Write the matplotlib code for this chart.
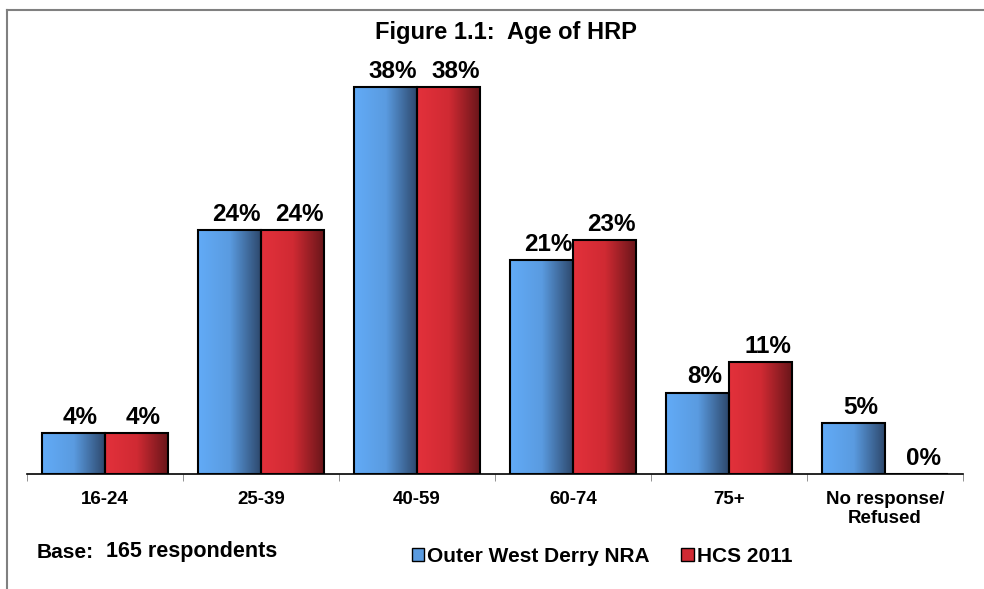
import matplotlib.pyplot as plt
import numpy as np
from matplotlib.colors import LinearSegmentedColormap
from matplotlib.lines import Line2D

plt.rcParams["font.family"] = ["Liberation Sans", "DejaVu Sans"]
plt.rcParams["font.weight"] = "bold"

categories = ["16-24", "25-39", "40-59", "60-74", "75+", "No response/\nRefused"]
outer_west = [4, 24, 38, 21, 8, 5]
hcs_2011 = [4, 24, 38, 23, 11, 0]
series_names = ["Outer West Derry NRA", "HCS 2011"]

blue_cmap = LinearSegmentedColormap.from_list("b", ["#62abf7", "#5a9be0", "#2c4669"])
red_cmap = LinearSegmentedColormap.from_list("r", ["#e3313b", "#d02a33", "#661519"])

fig = plt.figure(figsize=(9.84, 5.89), dpi=100)
ax = fig.add_axes([27 / 984, 115 / 589, 936 / 984, 407 / 589])

x = np.arange(len(categories))
w = 0.404
grad = np.linspace(0, 1, 256).reshape(1, -1)


def gradient_bars(xs, vals, cmap, color):
    bars = ax.bar(xs, vals, w, color=color, edgecolor="black", linewidth=1.5, zorder=3)
    for b in bars:
        if b.get_height() <= 0:
            continue
        x0, y0 = b.get_x(), b.get_y()
        im = ax.imshow(grad, cmap=cmap, aspect="auto", zorder=2,
                       extent=[x0, x0 + b.get_width(), y0, y0 + b.get_height()])
        im.set_clip_path(b)
        b.set_facecolor("none")
    return bars


b1 = gradient_bars(x - w / 2, outer_west, blue_cmap, "#5a9be0")
b2 = gradient_bars(x + w / 2, hcs_2011, red_cmap, "#d02a33")

for bars, vals in ((b1, outer_west), (b2, hcs_2011)):
    for b, v in zip(bars, vals):
        ax.annotate(f"{v}%", (b.get_x() + b.get_width() / 2, v),
                    xytext=(5, 3), textcoords="offset points",
                    ha="center", va="bottom", fontsize=17.5, fontweight="bold")

ax.set_xlim(-0.5, len(categories) - 0.5)
ax.set_ylim(0, 40)
for s in ("left", "right", "top"):
    ax.spines[s].set_visible(False)
ax.spines["bottom"].set_linewidth(1.2)
ax.set_yticks([])
ax.set_xticks(x)
ax.set_xticklabels(categories, fontsize=13.5, fontweight="bold", linespacing=1.2)
ax.tick_params(axis="x", which="major", length=0, pad=12)
ax.set_xticks(np.arange(-0.5, len(categories)), minor=True)
ax.tick_params(axis="x", which="minor", length=5, color="#808080", direction="out")

fig.text(506 / 984, 1 - 32 / 589, "Figure 1.1:  Age of HRP", ha="center", va="center",
         fontsize=17, fontweight="bold")
fig.text(37 / 984, 1 - 552 / 589, "Base:", ha="left", va="center",
         fontsize=15, fontweight="bold")
fig.text(106 / 984, 1 - 552 / 589, "165 respondents", ha="left", va="center",
         fontsize=15.5, fontweight="bold")

handles = [plt.Rectangle((0, 0), 1, 1, facecolor="#5a9be0", edgecolor="black"),
           plt.Rectangle((0, 0), 1, 1, facecolor="#d02a33", edgecolor="black")]
fig.legend(handles, series_names, loc="center", bbox_to_anchor=(602 / 984, 1 - 556 / 589),
           ncol=2, frameon=False, prop={"size": 15, "weight": "bold"},
           handlelength=0.6, handleheight=0.6, handletextpad=0.15, columnspacing=1.5)

# chart area frame (top and left edges visible)
fig.add_artist(Line2D([7 / 984, 1], [1 - 10 / 589] * 2, color="#808080", lw=1.5))
fig.add_artist(Line2D([7 / 984] * 2, [0, 1 - 10 / 589], color="#808080", lw=1.5))

fig.savefig("out.png", dpi=100)
